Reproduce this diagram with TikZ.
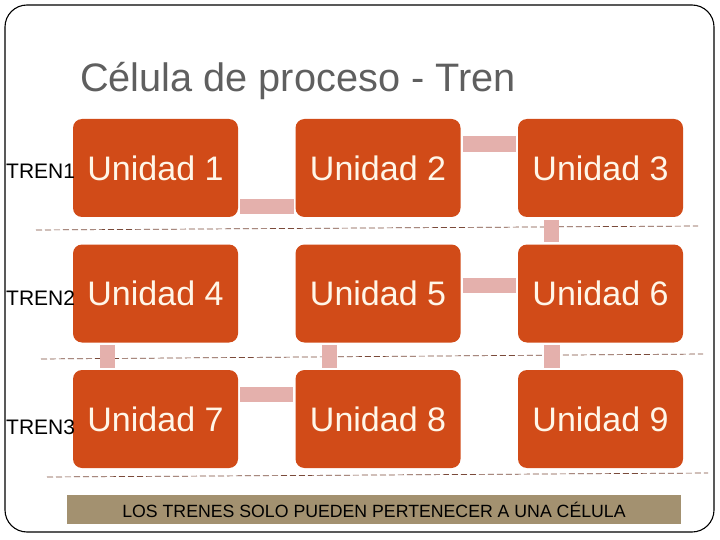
\documentclass[tikz,border=0pt]{standalone}
\usepackage{fontspec}
\setmainfont{Liberation Sans}
\definecolor{unitfill}{HTML}{D14B18}
\definecolor{unittext}{HTML}{FFF6E8}
\definecolor{connfill}{HTML}{E4B0AC}
\definecolor{dashcol}{HTML}{7A4A3A}
\definecolor{bannerfill}{HTML}{A39170}
\definecolor{titlegray}{HTML}{5F5F5F}
\begin{document}
\begin{tikzpicture}[x=1pt,y=-1pt,
  unit/.style={draw=none,fill=unitfill,rounded corners=9pt,minimum width=165pt,minimum height=98pt,inner sep=0pt,text=unittext,font=\fontsize{34}{40}\selectfont},
  conn/.style={draw=connfill,line width=15.5pt,line cap=butt},
  sepline/.style={draw=dashcol,line width=0.7pt,dash pattern=on 6pt off 3pt},
  trenlabel/.style={anchor=base west,inner sep=0pt,font=\fontsize{21}{25}\selectfont,text=black}]
\useasboundingbox (0,0) rectangle (720,540);
\draw[line width=1.1pt,rounded corners=22pt] (5,5) rectangle (714,532);
\node[anchor=base west,inner sep=0pt,text=titlegray,font=\fontsize{39.7}{46}\selectfont] (title) at (80,92) {Célula de proceso - Tren};
% dashed separators
\draw[sepline] (36,230) -- (698,226);
\draw[sepline] (41,359) -- (703,354);
\draw[sepline] (47,477) -- (708,473);
% units
\node[unit] (u1) at (155.5,168) {Unidad 1};
\node[unit] (u2) at (378,168) {Unidad 2};
\node[unit] (u3) at (600.5,168) {Unidad 3};
\node[unit] (u4) at (155.5,293.5) {Unidad 4};
\node[unit] (u5) at (378,293.5) {Unidad 5};
\node[unit] (u6) at (600.5,293.5) {Unidad 6};
\node[unit] (u7) at (155.5,419) {Unidad 7};
\node[unit] (u8) at (378,419) {Unidad 8};
\node[unit] (u9) at (600.5,419) {Unidad 9};
% tren labels
\node[trenlabel] (t1) at (6,179) {TREN1};
\node[trenlabel] (t2) at (6,305) {TREN2};
\node[trenlabel] (t3) at (6,434) {TREN3};
% connectors
\draw[conn] ([xshift=2pt,yshift=10.5pt]u1.south east) -- ([xshift=-1pt,yshift=10.5pt]u2.south west);
\draw[conn] ([xshift=2pt,yshift=-25pt]u2.north east) -- ([xshift=-2pt,yshift=-25pt]u3.north west);
\draw[conn] ([xshift=2pt,yshift=-41pt]u5.north east) -- ([xshift=-2pt,yshift=-41pt]u6.north west);
\draw[conn] ([xshift=2pt,yshift=-24.5pt]u7.north east) -- ([xshift=-2pt,yshift=-24.5pt]u8.north west);
\draw[conn] ([xshift=33.5pt,yshift=-3pt]u3.south west) -- ([xshift=33.5pt,yshift=2.5pt]u6.north west);
\draw[conn] ([xshift=34.5pt,yshift=-2.5pt]u4.south west) -- ([xshift=34.5pt,yshift=2pt]u7.north west);
\draw[conn] ([xshift=34pt,yshift=-2.5pt]u5.south west) -- ([xshift=34pt,yshift=2pt]u8.north west);
\draw[conn] ([xshift=34pt,yshift=-2.5pt]u6.south west) -- ([xshift=34pt,yshift=2pt]u9.north west);
% banner
\node[fill=bannerfill,minimum width=614pt,minimum height=29pt,inner sep=0pt,font=\fontsize{17.7}{20}\selectfont] (banner) at (374,509.5) {LOS TRENES SOLO PUEDEN PERTENECER A UNA CÉLULA};
\end{tikzpicture}
\end{document}
